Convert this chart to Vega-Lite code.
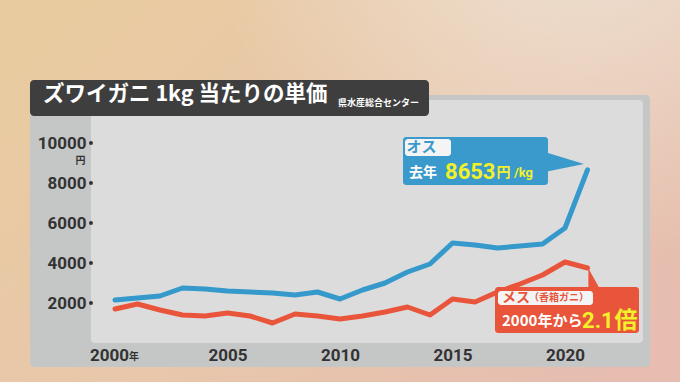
{
  "$schema": "https://vega.github.io/schema/vega-lite/v6.json",
  "width": 680,
  "height": 382,
  "padding": 0,
  "autosize": {"type": "none"},
  "background": "#e8c8ab",
  "config": {"view": {"stroke": null}, "font": "Noto Sans CJK JP"},
  "datasets": {
    "prices": [
      {"year": 2000, "price": 2150, "sex": "オス"},
      {"year": 2001, "price": 2250, "sex": "オス"},
      {"year": 2002, "price": 2350, "sex": "オス"},
      {"year": 2003, "price": 2750, "sex": "オス"},
      {"year": 2004, "price": 2700, "sex": "オス"},
      {"year": 2005, "price": 2600, "sex": "オス"},
      {"year": 2006, "price": 2550, "sex": "オス"},
      {"year": 2007, "price": 2500, "sex": "オス"},
      {"year": 2008, "price": 2400, "sex": "オス"},
      {"year": 2009, "price": 2550, "sex": "オス"},
      {"year": 2010, "price": 2200, "sex": "オス"},
      {"year": 2011, "price": 2650, "sex": "オス"},
      {"year": 2012, "price": 3000, "sex": "オス"},
      {"year": 2013, "price": 3550, "sex": "オス"},
      {"year": 2014, "price": 3950, "sex": "オス"},
      {"year": 2015, "price": 5000, "sex": "オス"},
      {"year": 2016, "price": 4900, "sex": "オス"},
      {"year": 2017, "price": 4750, "sex": "オス"},
      {"year": 2018, "price": 4850, "sex": "オス"},
      {"year": 2019, "price": 4950, "sex": "オス"},
      {"year": 2020, "price": 5750, "sex": "オス"},
      {"year": 2021, "price": 8653, "sex": "オス"},
      {"year": 2000, "price": 1700, "sex": "メス"},
      {"year": 2001, "price": 1950, "sex": "メス"},
      {"year": 2002, "price": 1650, "sex": "メス"},
      {"year": 2003, "price": 1400, "sex": "メス"},
      {"year": 2004, "price": 1350, "sex": "メス"},
      {"year": 2005, "price": 1500, "sex": "メス"},
      {"year": 2006, "price": 1350, "sex": "メス"},
      {"year": 2007, "price": 1000, "sex": "メス"},
      {"year": 2008, "price": 1450, "sex": "メス"},
      {"year": 2009, "price": 1350, "sex": "メス"},
      {"year": 2010, "price": 1200, "sex": "メス"},
      {"year": 2011, "price": 1350, "sex": "メス"},
      {"year": 2012, "price": 1550, "sex": "メス"},
      {"year": 2013, "price": 1800, "sex": "メス"},
      {"year": 2014, "price": 1400, "sex": "メス"},
      {"year": 2015, "price": 2200, "sex": "メス"},
      {"year": 2016, "price": 2050, "sex": "メス"},
      {"year": 2017, "price": 2550, "sex": "メス"},
      {"year": 2018, "price": 2950, "sex": "メス"},
      {"year": 2019, "price": 3400, "sex": "メス"},
      {"year": 2020, "price": 4050, "sex": "メス"},
      {"year": 2021, "price": 3750, "sex": "メス"}
    ]
  },
  "layer": [
    {
      "data": {"values": [{"x": 1994.889, "x2": 2025.111, "y": -1950, "y2": 17150}]},
      "mark": {"type": "rect", "fill": {"gradient": "linear", "x1": 0, "y1": 0.2, "x2": 1, "y2": 0.8, "stops": [{"offset": 0, "color": "#e9cba0"}, {"offset": 0.5, "color": "#e8c7ab"}, {"offset": 1, "color": "#e6bdb0"}]}},
      "encoding": {
        "x": {"field": "x", "type": "quantitative", "scale": {"domain": [1994.889, 2025.111], "nice": false, "zero": false},
          "axis": {"values": [2005, 2010, 2015, 2020], "format": "d", "orient": "bottom", "offset": -37, "zindex": 1, "domain": false, "ticks": false, "grid": false, "title": null, "labelPadding": 2, "labelFont": "Roboto", "labelFontWeight": "bold", "labelFontSize": 17, "labelColor": "#333333", "labelFlush": false}},
        "x2": {"field": "x2"},
        "y": {"field": "y", "type": "quantitative", "scale": {"domain": [-1950, 17150], "nice": false, "zero": false},
          "axis": {"values": [2000, 4000, 6000, 8000, 10000], "format": "d", "orient": "left", "offset": -91, "zindex": 1, "domain": false, "ticks": false, "grid": false, "title": null, "labelPadding": 5, "labelFont": "Roboto", "labelFontWeight": "bold", "labelFontSize": 17, "labelColor": "#333333"}},
        "y2": {"field": "y2"}
      }
    },
    {
      "data": {"values": [{"x": 1994.889, "x2": 2025.111, "y": -1950, "y2": 17150}]},
      "mark": {"type": "rect", "fill": {"gradient": "radial", "x1": 0.85, "y1": 0.05, "r1": 0, "x2": 0.85, "y2": 0.05, "r2": 0.55, "stops": [{"offset": 0, "color": "rgba(240,232,222,0.85)"}, {"offset": 1, "color": "rgba(240,232,222,0)"}]}},
      "encoding": {
        "x": {"field": "x", "type": "quantitative"},
        "x2": {"field": "x2"},
        "y": {"field": "y", "type": "quantitative"},
        "y2": {"field": "y2"}
      }
    },
    {
      "data": {"values": [{"x": 1996.222, "x2": 2023.778, "y": 12400, "y2": -1200, "part": "outer"}]},
      "mark": {"type": "rect", "fill": "#c5c7c7", "cornerRadius": 4},
      "encoding": {
        "x": {"field": "x", "type": "quantitative"},
        "x2": {"field": "x2"},
        "y": {"field": "y", "type": "quantitative"},
        "y2": {"field": "y2"}
      }
    },
    {
      "data": {"values": [{"x": 1998.933, "x2": 2023.467, "y": 12150, "y2": 0, "part": "inner"}]},
      "mark": {"type": "rect", "fill": "#dcdcdc", "cornerRadius": 4},
      "encoding": {
        "x": {"field": "x", "type": "quantitative"},
        "x2": {"field": "x2"},
        "y": {"field": "y", "type": "quantitative"},
        "y2": {"field": "y2"}
      }
    },
    {
      "data": {"values": [{"x": 1996.222, "x2": 2013.956, "y": 13150, "y2": 11350, "part": "title"}]},
      "mark": {"type": "rect", "fill": "#3e3e3e", "cornerRadius": 4},
      "encoding": {
        "x": {"field": "x", "type": "quantitative"},
        "x2": {"field": "x2"},
        "y": {"field": "y", "type": "quantitative"},
        "y2": {"field": "y2"}
      }
    },
    {
      "data": {"name": "prices"},
      "mark": {"type": "line", "strokeWidth": 5, "strokeCap": "round", "strokeJoin": "round"},
      "encoding": {
        "x": {"field": "year", "type": "quantitative"},
        "y": {"field": "price", "type": "quantitative"},
        "color": {"field": "sex", "type": "nominal", "scale": {"domain": ["オス", "メス"], "range": ["#3599cb", "#e9553a"]}, "legend": null}
      }
    },
    {
      "data": {"values": [{"x": 1998.933, "y": 2000}, {"x": 1998.933, "y": 4000}, {"x": 1998.933, "y": 6000}, {"x": 1998.933, "y": 8000}, {"x": 1998.933, "y": 10000}]},
      "mark": {"type": "point", "filled": true, "size": 16, "color": "#333333", "opacity": 1},
      "encoding": {
        "x": {"field": "x", "type": "quantitative"},
        "y": {"field": "y", "type": "quantitative"}
      }
    },
    {
      "data": {"values": [{"x": 2012.8, "x2": 2019.244, "y": 10300, "y2": 7900}]},
      "mark": {"type": "rect", "fill": "#3a9acb", "cornerRadius": 3},
      "encoding": {
        "x": {"field": "x", "type": "quantitative"},
        "x2": {"field": "x2"},
        "y": {"field": "y", "type": "quantitative"},
        "y2": {"field": "y2"}
      }
    },
    {
      "data": {"values": [{"x": 2019.1, "y": 9550, "y2": 8550}, {"x": 2020.844, "y": 8950, "y2": 8950}]},
      "mark": {"type": "area", "fill": "#3a9acb", "orient": "vertical"},
      "encoding": {
        "x": {"field": "x", "type": "quantitative"},
        "y": {"field": "y", "type": "quantitative"},
        "y2": {"field": "y2"}
      }
    },
    {
      "data": {"values": [{"x": 2016.889, "x2": 2023.289, "y": 2800, "y2": 500}]},
      "mark": {"type": "rect", "fill": "#e9553a", "cornerRadius": 3},
      "encoding": {
        "x": {"field": "x", "type": "quantitative"},
        "x2": {"field": "x2"},
        "y": {"field": "y", "type": "quantitative"},
        "y2": {"field": "y2"}
      }
    },
    {
      "data": {"values": [{"y": 2700, "x": 2021.04, "x2": 2021.55}, {"y": 3650, "x": 2021.04, "x2": 2021.08}]},
      "mark": {"type": "area", "fill": "#e9553a", "orient": "horizontal"},
      "encoding": {
        "y": {"field": "y", "type": "quantitative"},
        "x": {"field": "x", "type": "quantitative"},
        "x2": {"field": "x2"}
      }
    },
    {
      "data": {"values": [{"x": 2012.889, "x2": 2014.933, "y": 10200, "y2": 9350}, {"x": 2017.022, "x2": 2021.244, "y": 2600, "y2": 1900}]},
      "mark": {"type": "rect", "fill": "#f4f4f4", "cornerRadius": 3},
      "encoding": {
        "x": {"field": "x", "type": "quantitative"},
        "x2": {"field": "x2"},
        "y": {"field": "y", "type": "quantitative"},
        "y2": {"field": "y2"}
      }
    },
    {
      "data": {"values": [
        {"x": 1996.8, "y": 12400, "t": "ズワイガニ 1kg 当たりの単価", "c": "#ffffff", "s": 21.5},
        {"x": 2009.911, "y": 12000, "t": "県水産総合センター", "c": "#ffffff", "s": 9},
        {"x": 1998.25, "y": 9080, "t": "円", "c": "#333333", "s": 10},
        {"x": 2000.62, "y": -700, "t": "年", "c": "#333333", "s": 10},
        {"x": 2012.95, "y": 9800, "t": "オス", "c": "#3a9acb", "s": 15},
        {"x": 2013.067, "y": 8500, "t": "去年", "c": "#ffffff", "s": 14},
        {"x": 2016.95, "y": 8500, "t": "円", "c": "#f2f02a", "s": 14},
        {"x": 2017.2, "y": 2250, "t": "メス", "c": "#e9553a", "s": 14},
        {"x": 2018.4, "y": 2250, "t": "（香箱ガニ）", "c": "#e9553a", "s": 10},
        {"x": 2017.2, "y": 1100, "t": "2000年から", "c": "#ffffff", "s": 15},
        {"x": 2022.2, "y": 1100, "t": "倍", "c": "#f2f02a", "s": 23}
      ]},
      "mark": {"type": "text", "align": "left", "baseline": "middle", "font": "Noto Sans CJK JP", "fontWeight": "bold"},
      "encoding": {
        "x": {"field": "x", "type": "quantitative"},
        "y": {"field": "y", "type": "quantitative"},
        "text": {"field": "t"},
        "color": {"field": "c", "type": "nominal", "scale": null},
        "size": {"field": "s", "type": "quantitative", "scale": null}
      }
    },
    {
      "data": {"values": [
        {"x": 1998.889, "y": -650, "t": "2000", "c": "#333333", "s": 17},
        {"x": 2014.667, "y": 8550, "t": "8653", "c": "#f2f02a", "s": 22},
        {"x": 2017.73, "y": 8500, "t": "/kg", "c": "#f2f02a", "s": 13},
        {"x": 2020.756, "y": 1100, "t": "2.1", "c": "#f2f02a", "s": 22}
      ]},
      "mark": {"type": "text", "align": "left", "baseline": "middle", "font": "Roboto", "fontWeight": "bold"},
      "encoding": {
        "x": {"field": "x", "type": "quantitative"},
        "y": {"field": "y", "type": "quantitative"},
        "text": {"field": "t"},
        "color": {"field": "c", "type": "nominal", "scale": null},
        "size": {"field": "s", "type": "quantitative", "scale": null}
      }
    }
  ]
}
